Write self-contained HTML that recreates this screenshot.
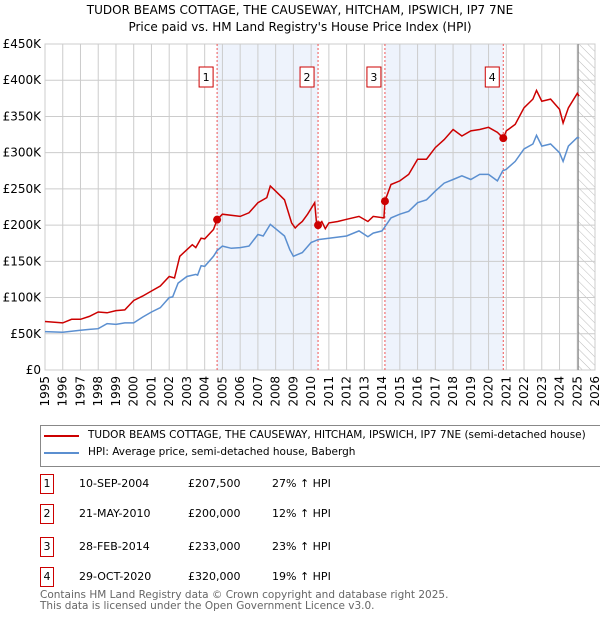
<!DOCTYPE html>
<html><head><meta charset="utf-8"><style>
body{margin:0;background:#fff;font-family:"DejaVu Sans","Liberation Sans",sans-serif;}
#wrap{position:relative;width:600px;height:620px;overflow:hidden;}
.t{position:absolute;font-size:12px;color:#000;white-space:nowrap;}
svg text{font-family:"DejaVu Sans","Liberation Sans",sans-serif;}
</style></head><body><div id="wrap">
<div class="t" style="left:0;width:600px;text-align:center;top:2px;font-size:12px;line-height:17px;">TUDOR BEAMS COTTAGE, THE CAUSEWAY, HITCHAM, IPSWICH, IP7 7NE<br>Price paid vs. HM Land Registry's House Price Index (HPI)</div>
<svg id="chart" width="600" height="420" style="position:absolute;left:0;top:0"></svg>
<div style="position:absolute;left:40px;top:425px;width:570px;height:40px;border:1px solid #888;">
 <div><div style="position:absolute;left:3px;top:9px;width:35px;height:2px;background:#cc0000"></div><div class="t" style="left:47px;top:3px;font-size:10.5px">TUDOR BEAMS COTTAGE, THE CAUSEWAY, HITCHAM, IPSWICH, IP7 7NE (semi-detached house)</div></div>
 <div><div style="position:absolute;left:3px;top:26px;width:35px;height:2px;background:#5b8fd0"></div><div class="t" style="left:47px;top:20px;font-size:10.5px">HPI: Average price, semi-detached house, Babergh</div></div>
</div>
<div id="tbl"></div>
<div class="t" style="left:40px;top:590px;font-size:10.5px;color:#666;line-height:11px">Contains HM Land Registry data © Crown copyright and database right 2025.<br>This data is licensed under the Open Government Licence v3.0.</div>
</div>
<script>
const redX=[1995,1996,1996.5,1997,1997.5,1998,1998.5,1999,1999.5,2000,2000.5,2001,2001.5,2002,2002.3,2002.6,2003,2003.3,2003.5,2003.8,2004,2004.5,2004.7,2005,2006,2006.5,2007,2007.5,2007.7,2008,2008.5,2008.9,2009.1,2009.3,2009.5,2009.8,2010.2,2010.3,2010.4,2010.6,2010.8,2011,2011.5,2012,2012.7,2013.2,2013.5,2014.1,2014.16,2014.5,2015,2015.5,2016,2016.5,2017,2017.5,2018,2018.5,2019,2019.5,2020,2020.5,2020.83,2021,2021.5,2022,2022.5,2022.7,2023,2023.5,2024,2024.2,2024.5,2025,2025.1];
const redY=[67,65,70,70,74,80,79,82,83,96,102,109,116,129,127,157,166,173,169,182,181,194,207.5,215,212,217,231,238,254,247,235,203,196,201,205,215,231,203,200,205,195,203,205,208,212,205,212,210,233,256,261,270,291,291,307,318,332,323,330,332,335,328,320,330,339,362,374,386,371,374,360,341,362,382,378];
const hpiX=[1995,1996,1997,1997.5,1998,1998.5,1999,1999.5,2000,2000.5,2001,2001.5,2002,2002.2,2002.5,2003,2003.5,2003.6,2003.8,2004,2004.5,2004.7,2005,2005.5,2006,2006.5,2007,2007.3,2007.7,2008,2008.5,2008.8,2009,2009.2,2009.5,2010,2010.4,2011,2012,2012.7,2013.2,2013.5,2014,2014.5,2015,2015.5,2016,2016.5,2017,2017.5,2018,2018.5,2019,2019.5,2020,2020.5,2020.8,2021,2021.5,2022,2022.5,2022.7,2023,2023.5,2024,2024.2,2024.5,2025,2025.1];
const hpiY=[53,52,55,56,57,64,63,65,65,73,80,86,100,101,120,129,132,131,144,143,157,165,171,168,169,171,187,185,201,195,185,166,157,159,162,176,180,182,185,192,184,189,192,210,215,219,231,235,247,258,263,268,263,270,270,261,275,277,288,305,312,324,309,312,300,288,309,321,320];
const saleX=[2004.7,2010.39,2014.16,2020.83];
const saleY=[207.5,200,233,320];
const saleLabels=["1","2","3","4"];
const saleDates=["10-SEP-2004","21-MAY-2010","28-FEB-2014","29-OCT-2020"];
const salePrices=["£207,500","£200,000","£233,000","£320,000"];
const salePct=["27% ↑ HPI","12% ↑ HPI","23% ↑ HPI","19% ↑ HPI"];
const yTicks=[0,50,100,150,200,250,300,350,400,450];
const yTickLabels=["£0","£50K","£100K","£150K","£200K","£250K","£300K","£350K","£400K","£450K"];
const xTicks=[1995,1996,1997,1998,1999,2000,2001,2002,2003,2004,2005,2006,2007,2008,2009,2010,2011,2012,2013,2014,2015,2016,2017,2018,2019,2020,2021,2022,2023,2024,2025,2026];
const X0=45,X1=595,Y0=370,Y1=44;
const sx=v=>X0+(v-1995)/31*(X1-X0);
const sy=v=>Y0-v/450*(Y0-Y1);
const NS="http://www.w3.org/2000/svg";
const svg=document.getElementById('chart');
function mk(tag,at,parent){const e=document.createElementNS(NS,tag);for(const k in at)e.setAttribute(k,at[k]);(parent||svg).appendChild(e);return e;}
let defs=mk('defs',{});
let pat=mk('pattern',{id:'hatch',width:6,height:6,patternUnits:'userSpaceOnUse',patternTransform:'rotate(-45)'},defs);
mk('line',{x1:0,y1:0,x2:0,y2:6,stroke:'#bbb','stroke-width':1},pat);
for(let i=0;i<saleX.length;i+=2){const s=mk('rect',{x:sx(saleX[i]),y:Y1,width:sx(saleX[i+1])-sx(saleX[i]),height:Y0-Y1,fill:'#eef3fc'});

}
const h=mk('rect',{x:sx(2025.05),y:Y1,width:X1-sx(2025.05),height:Y0-Y1,fill:'url(#hatch)'});


yTicks.forEach((v,i)=>{mk('line',{x1:X0,x2:X1,y1:sy(v),y2:sy(v),stroke:'#ccc'});
const t=mk('text',{x:X0-4,y:sy(v)+4,'text-anchor':'end','font-size':12});t.textContent=yTickLabels[i];

});
xTicks.forEach(v=>{mk('line',{x1:sx(v),x2:sx(v),y1:Y1,y2:Y0,stroke:'#ccc'});
const t=mk('text',{x:0,y:0,'text-anchor':'end','font-size':12,transform:`translate(${sx(v)+4},${Y0+6}) rotate(-90)`});t.textContent=v;

});
mk('rect',{x:X0,y:Y1,width:X1-X0,height:Y0-Y1,fill:'none',stroke:'#ccc'});
mk('line',{x1:sx(2025.05),x2:sx(2025.05),y1:Y1,y2:Y0,stroke:'#888','stroke-width':1.2});
saleX.forEach((v,i)=>{const l=mk('line',{x1:sx(v),x2:sx(v),y1:Y1,y2:Y0,stroke:'#ee5555','stroke-dasharray':'2,2'});


const g=mk('g',{});


mk('rect',{x:sx(v)-18,y:67,width:14,height:20,fill:'#fff',stroke:'#cc0000'},g);
const t=mk('text',{x:sx(v)-11,y:81,'text-anchor':'middle','font-size':11},g);t.textContent=saleLabels[i];});
function path(xs,ys){return xs.map((x,i)=>(i?'L':'M')+sx(x).toFixed(1)+','+sy(ys[i]).toFixed(1)).join('');}
const hp=mk('path',{d:path(hpiX,hpiY),fill:'none',stroke:'#5b8fd0','stroke-width':1.5});


const rp=mk('path',{d:path(redX,redY),fill:'none',stroke:'#cc0000','stroke-width':1.5});


saleX.forEach((v,i)=>{const c=mk('circle',{cx:sx(v),cy:sy(saleY[i]),r:4,fill:'#cc0000'});

});
const tbl=document.getElementById('tbl');
const rowY=[474,504,537,567];
saleLabels.forEach((s,i)=>{const r=document.createElement('div');


r.style.cssText=`position:absolute;left:0;top:${rowY[i]}px;width:600px;height:22px;font-size:11px`;
r.innerHTML=`<div style="position:absolute;left:40px;top:0;width:12px;height:18px;border:1px solid #cc0000;text-align:center;line-height:18px">${s}</div><div class="t" style="left:79px;top:3px;font-size:11px">${saleDates[i]}</div><div class="t" style="left:188px;top:3px;font-size:11px">${salePrices[i]}</div><div class="t" style="left:272px;top:3px;font-size:11px">${salePct[i]}</div>`;
tbl.appendChild(r);});
</script></body></html>
